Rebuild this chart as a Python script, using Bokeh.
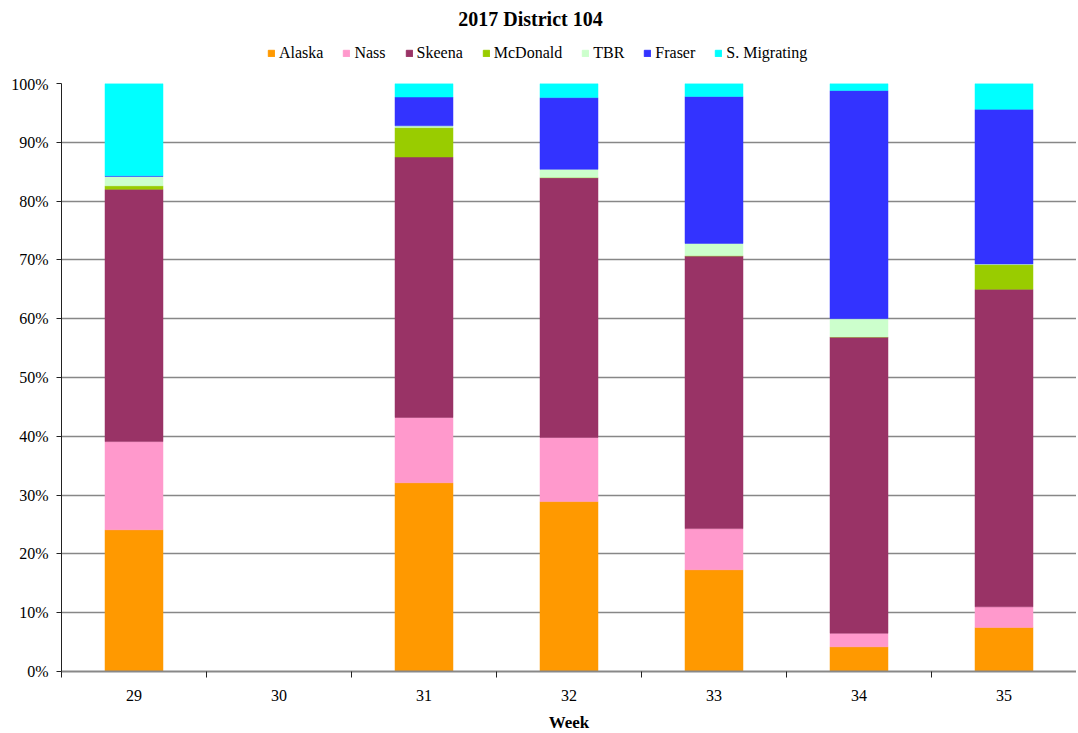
from bokeh.plotting import figure
from bokeh.layouts import column
from bokeh.models import (ColumnDataSource, Legend, LegendItem, FixedTicker,
                          PrintfTickFormatter, Range1d, Label)
from bokeh.embed import file_html
from bokeh.resources import INLINE

weeks = ["29", "30", "31", "32", "33", "34", "35"]
series = ["Alaska", "Nass", "Skeena", "McDonald", "TBR", "Fraser", "S. Migrating"]
colors = ["#FF9900", "#FF99CC", "#993366", "#99CC00", "#CCFFCC", "#3333FF", "#00FFFF"]

alaska = [24.1, 0, 32.1, 28.9, 17.3, 4.2, 7.5]
nass = [15.0, 0, 11.1, 10.9, 7.0, 2.3, 3.5]
skeena = [42.9, 0, 44.3, 44.2, 46.4, 50.4, 54.0]
mcdonald = [0.6, 0, 5.0, 0.0, 0.0, 0.0, 4.2]
tbr = [1.6, 0, 0.3, 1.4, 2.1, 3.1, 0.1]
fraser = [0.1, 0, 4.9, 12.2, 25.0, 38.8, 26.3]
s_migrating = [15.7, 0, 2.3, 2.4, 2.2, 1.2, 4.5]

xs = list(range(len(weeks)))
src = ColumnDataSource(dict(x=xs, Alaska=alaska, Nass=nass, Skeena=skeena,
                            McDonald=mcdonald, TBR=tbr, Fraser=fraser,
                            **{"S. Migrating": s_migrating}))

FONT = "Liberation Serif"
LEFT, FW, FH = 61, 1015, 588
HEAD_H = 75

# ---------- header: title + legend (frame aligned with the chart frame) ----------
head = figure(width=LEFT + FW, height=HEAD_H, output_backend="svg", toolbar_location=None,
              x_range=Range1d(-0.5, len(weeks) - 0.5), y_range=Range1d(1000, 1001),
              x_axis_type=None, y_axis_type=None)
head.min_border = 0
head.min_border_left = LEFT
head.outline_line_color = None

head.add_layout(Label(x=469, y=HEAD_H - 18, x_units="screen", y_units="screen",
                      text="2017 District 104", text_align="center", text_baseline="middle",
                      text_font=FONT, text_font_size="20px", text_font_style="bold",
                      text_color="black"))

# legend swatches come from stacked bars that lie outside this header's visible range
head_renderers = head.vbar_stack(series, x="x", width=0.4, source=src,
                                 fill_color=colors, line_color=colors)
items = [LegendItem(label=n, renderers=[r]) for n, r in zip(series, head_renderers)]
legend = Legend(items=items, orientation="horizontal", location=(206, 13))
legend.label_text_font = FONT
legend.label_text_font_size = "16px"
legend.label_text_color = "black"
legend.label_height = 16
legend.glyph_width = 8
legend.glyph_height = 8
legend.label_standoff = 4
legend.spacing = 19
legend.padding = 2
legend.margin = 0
legend.border_line_color = None
legend.background_fill_alpha = 0
head.add_layout(legend, "center")

# ---------- main chart ----------
p = figure(frame_width=FW, frame_height=FH, output_backend="svg", toolbar_location=None,
           x_range=Range1d(-0.5, len(weeks) - 0.5), y_range=Range1d(0, 100))
p.min_border_left = LEFT
p.min_border_right = 0
p.min_border_bottom = 40
p.min_border_top = 8
p.outline_line_color = None
p.background_fill_color = "white"

p.vbar_stack(series, x="x", width=0.4, source=src,
             fill_color=colors, line_color=colors, line_width=0.5)

# Y axis
p.yaxis.ticker = FixedTicker(ticks=list(range(0, 101, 10)))
p.yaxis.formatter = PrintfTickFormatter(format="%d%%")
p.yaxis.major_label_text_font = FONT
p.yaxis.major_label_text_font_size = "16px"
p.yaxis.major_label_text_color = "black"
p.yaxis.axis_line_color = "#222222"
p.yaxis.major_tick_line_color = "#222222"
p.yaxis.major_tick_out = 5
p.yaxis.major_tick_in = 0
p.yaxis.minor_tick_line_color = None
p.yaxis.major_label_standoff = 8

# X axis
p.xaxis.ticker = FixedTicker(ticks=xs, minor_ticks=[i - 0.5 for i in range(len(weeks) + 1)])
p.xaxis.major_label_overrides = {i: w for i, w in zip(xs, weeks)}
p.xaxis.major_label_text_font = FONT
p.xaxis.major_label_text_font_size = "16px"
p.xaxis.major_label_text_color = "black"
p.xaxis.major_tick_line_color = None
p.xaxis.major_tick_out = 0
p.xaxis.minor_tick_line_color = "#222222"
p.xaxis.minor_tick_out = 6
p.xaxis.minor_tick_in = 0
p.xaxis.axis_line_color = "#888888"
p.xaxis.axis_line_width = 2
p.xaxis.major_label_standoff = 12
p.xaxis.axis_label = "Week"
p.xaxis.axis_label_text_font = FONT
p.xaxis.axis_label_text_font_size = "17px"
p.xaxis.axis_label_text_font_style = "bold"
p.xaxis.axis_label_text_color = "black"
p.xaxis.axis_label_standoff = 9

p.xgrid.grid_line_color = None
p.ygrid.grid_line_color = "#878787"
p.ygrid.grid_line_width = 1.5

layout = column(head, p, spacing=0)
open("out.html", "w").write(file_html(layout, INLINE))
